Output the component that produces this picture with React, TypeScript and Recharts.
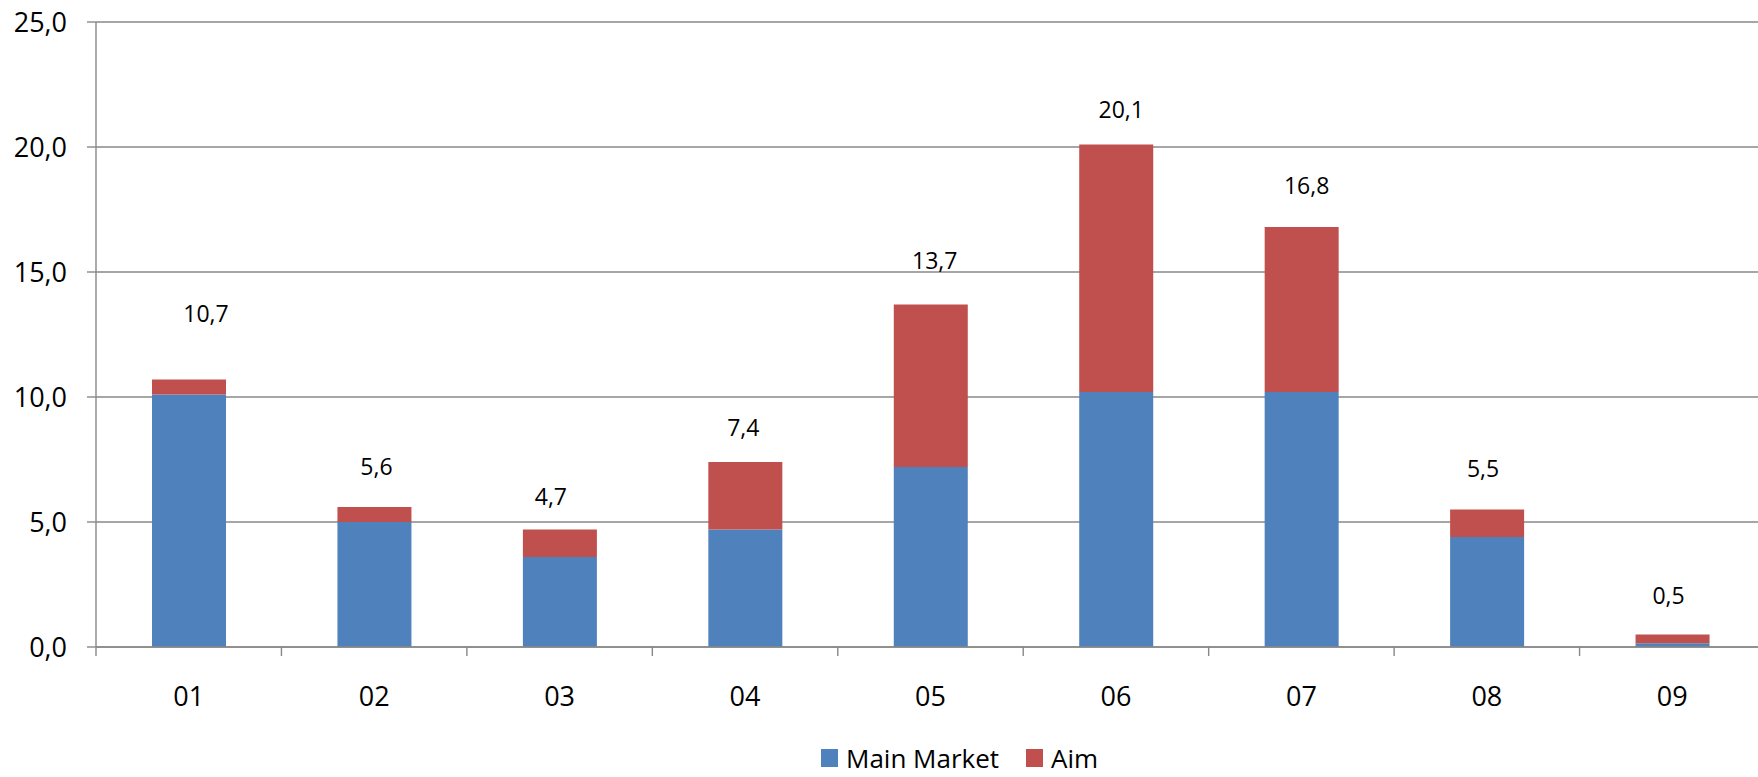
import React from 'react';
import { BarChart, Bar, XAxis, YAxis, CartesianGrid, Legend, LabelList } from 'recharts';

const categories = ['01', '02', '03', '04', '05', '06', '07', '08', '09'];
const mainMarket = [10.1, 5.0, 3.6, 4.7, 7.2, 10.2, 10.2, 4.4, 0.15];
const aim = [0.6, 0.6, 1.1, 2.7, 6.5, 9.9, 6.6, 1.1, 0.35];
const totals = [10.7, 5.6, 4.7, 7.4, 13.7, 20.1, 16.8, 5.5, 0.5];
const yTicks = [0, 5, 10, 15, 20, 25];

// hand placed total labels in the original, offsets from the top centre of each stack
const labelOffsets = [
  [17, -66], [2, -40], [-9, -33], [-2, -34], [4, -44], [5, -35], [5, -41], [-4, -41], [-4, -39],
];

const chartData = categories.map((name, i) => ({
  name,
  mainMarket: mainMarket[i],
  aim: aim[i],
  total: totals[i],
}));

const BLUE = '#4F81BD';
const RED = '#C0504D';
const GRID = '#888888';
const FONT = '"Open Sans", sans-serif';

const fmt = (v: number) => v.toFixed(1).replace('.', ',');

function CategoryTick(props: any) {
  const { x, y, payload, index, visibleTicksCount } = props;
  const half = payload && payload.offset ? payload.offset : 92.7;
  return (
    <g>
      <line x1={x - half} x2={x - half} y1={y} y2={y + 9} stroke={GRID} strokeWidth={1.4} />
      {index === visibleTicksCount - 1 && (
        <line x1={x + half} x2={x + half} y1={y} y2={y + 9} stroke={GRID} strokeWidth={1.4} />
      )}
      <text x={x} y={y + 49} dy="0.355em" textAnchor="middle" fill="#000" fontSize={27} fontFamily={FONT}>
        {payload.value}
      </text>
    </g>
  );
}

function TotalLabel(props: any) {
  const vb = props.viewBox || {};
  const x = props.x ?? vb.x;
  const y = props.y ?? vb.y;
  const width = props.width ?? vb.width;
  const index = props.index ?? 0;
  const [dx, dy] = labelOffsets[index] || [0, -40];
  return (
    <text
      x={x + width / 2 + dx}
      y={y + dy}
      dy="0.355em"
      textAnchor="middle"
      fill="#000"
      fontSize={23}
      fontFamily={FONT}
    >
      {fmt(totals[index])}
    </text>
  );
}

function LegendContent() {
  const items = [
    { label: 'Main Market', color: BLUE },
    { label: 'Aim', color: RED },
  ];
  return (
    <div style={{ height: 60, position: 'relative', fontFamily: FONT }}>
      <div style={{ position: 'absolute', left: 821, top: 31, display: 'flex', alignItems: 'center', height: 20 }}>
        {items.map((it, i) => (
          <div key={it.label} style={{ display: 'flex', alignItems: 'center', marginRight: i === 0 ? 27 : 0 }}>
            <div style={{ width: 17, height: 18, background: it.color, marginRight: 8 }} />
            <span style={{ fontSize: 26, lineHeight: '20px', color: '#000', whiteSpace: 'nowrap' }}>
              {it.label}
            </span>
          </div>
        ))}
      </div>
    </div>
  );
}

export default function App() {
  return (
    <div
      style={{
        position: 'absolute',
        left: 0,
        top: 0,
        width: 1758,
        height: 777,
        overflow: 'hidden',
        background: '#fff',
      }}
    >
      <BarChart
        width={1770}
        height={777}
        data={chartData}
        margin={{ top: 22, right: 5, bottom: 0, left: 0 }}
        style={{ fontFamily: FONT }}
      >
        <CartesianGrid vertical={false} stroke={GRID} strokeWidth={1.4} />
        <XAxis
          dataKey="name"
          height={70}
          tickLine={false}
          tickSize={0}
          tickMargin={0}
          axisLine={{ stroke: GRID, strokeWidth: 1.4 }}
          tick={<CategoryTick />}
          interval={0}
        />
        <YAxis
          width={96}
          domain={[0, 25]}
          ticks={yTicks}
          tickFormatter={fmt}
          tickSize={9}
          tickMargin={20}
          axisLine={{ stroke: GRID, strokeWidth: 1.4 }}
          tickLine={{ stroke: GRID, strokeWidth: 1.4 }}
          tick={{ fill: '#000', fontSize: 27, fontFamily: FONT }}
        />
        <Legend
          verticalAlign="bottom"
          height={60}
          content={<LegendContent />}
          wrapperStyle={{ left: 0, width: 1770, bottom: 0 }}
        />
        <Bar dataKey="mainMarket" name="Main Market" stackId="a" fill={BLUE} barSize={74} isAnimationActive={false} />
        <Bar dataKey="aim" name="Aim" stackId="a" fill={RED} barSize={74} isAnimationActive={false}>
          <LabelList dataKey="total" content={<TotalLabel />} />
        </Bar>
      </BarChart>
    </div>
  );
}
